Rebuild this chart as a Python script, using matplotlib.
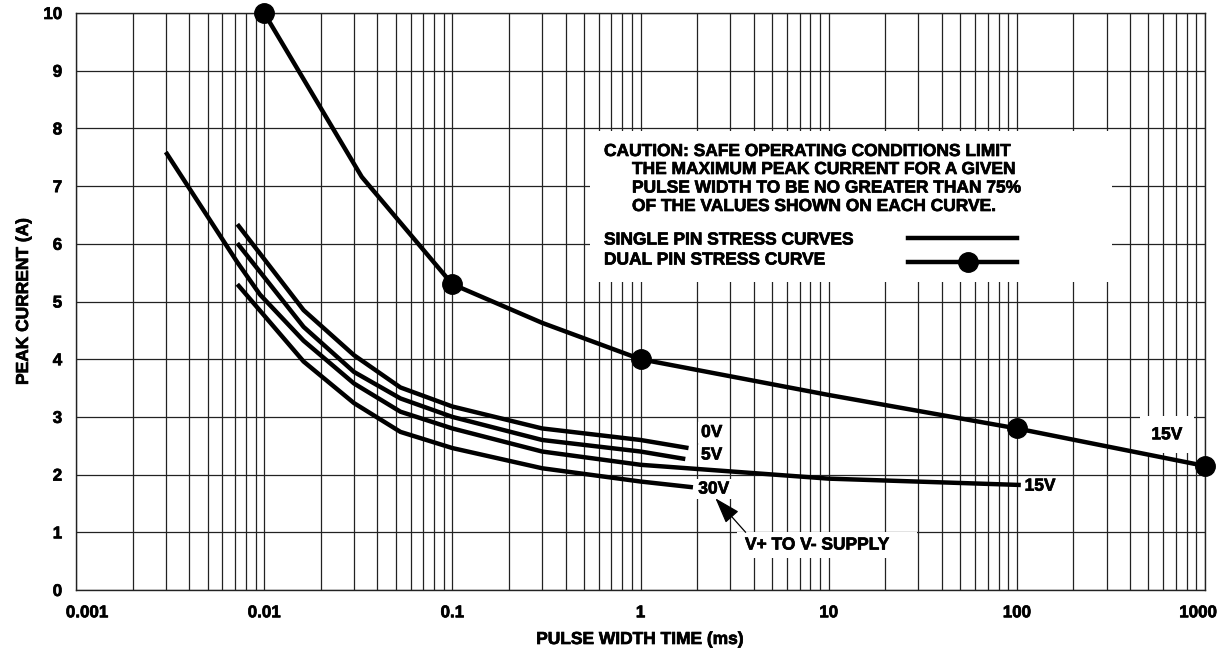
import numpy as np
import matplotlib
matplotlib.use('Agg')
import matplotlib.pyplot as plt
import matplotlib.patheffects as pe
import matplotlib.transforms as mtransforms
from matplotlib.patches import Rectangle

plt.rcParams['font.family'] = ['Liberation Sans', 'DejaVu Sans']
plt.rcParams['font.weight'] = 'bold'

# single pin stress curves (pulse width ms, peak current A)
x_0v = [0.0072, 0.0162, 0.030, 0.053, 0.1, 0.3, 1.0, 1.8]
y_0v = [6.34, 4.85, 4.07, 3.51, 3.18, 2.80, 2.60, 2.46]
x_5v = [0.0072, 0.0162, 0.030, 0.053, 0.1, 0.3, 1.0, 1.73]
y_5v = [6.01, 4.56, 3.78, 3.32, 3.00, 2.60, 2.40, 2.27]
x_15v = [0.003, 0.0072, 0.0095, 0.0162, 0.030, 0.053, 0.1, 0.3, 1.0, 10, 105]
y_15v = [7.59, 5.68, 5.12, 4.32, 3.58, 3.09, 2.80, 2.40, 2.17, 1.93, 1.82]
x_30v = [0.0072, 0.0162, 0.030, 0.053, 0.1, 0.3, 1.0, 1.9]
y_30v = [5.30, 3.96, 3.24, 2.74, 2.46, 2.11, 1.88, 1.78]

# dual pin stress curve
x_dual = [0.01, 0.033, 0.1, 0.3, 1, 10, 100, 1000]
y_dual = [10, 7.16, 5.3, 4.63, 4.0, 3.38, 2.8, 2.15]
dual_marks = [0, 2, 4, 6, 7]

xticks = [0.001, 0.01, 0.1, 1, 10, 100, 1000]
xticklabels = ['0.001', '0.01', '0.1', '1', '10', '100', '1000']
yticks = list(range(0, 11))

caution = ['CAUTION: SAFE OPERATING CONDITIONS LIMIT',
           'THE MAXIMUM PEAK CURRENT FOR A GIVEN',
           'PULSE WIDTH TO BE NO GREATER THAN 75%',
           'OF THE VALUES SHOWN ON EACH CURVE.']

W, H = 1226, 649
fs = 12.5
heavy = [pe.withStroke(linewidth=0.5, foreground='black')]
fig = plt.figure(figsize=(W / 100, H / 100), dpi=100)
ax = fig.add_axes([76 / W, 1 - 590 / H, 1129 / W, 577 / H])


def ax_xy(px, py):
    # pixel position -> axes fraction
    return (px - 76) / 1129, (590 - py) / 577


ax.set_xscale('log')
ax.set_xlim(0.001, 1000)
ax.set_ylim(0, 10)
ax.set_xticks(xticks)
ax.set_xticklabels(xticklabels)
ax.set_yticks(yticks)
ax.grid(which='both', color='#222222', lw=0.9)
ax.set_axisbelow(True)
ax.tick_params(which='both', length=0, labelsize=12.2)
ax.tick_params(axis='y', pad=10)
ax.tick_params(axis='x', pad=11)
for lab in ax.get_xticklabels() + ax.get_yticklabels():
    lab.set_fontweight('bold')
    lab.set_path_effects(heavy)
# edge labels sit inside the frame a bit
xl = ax.get_xticklabels()
xl[0].set_transform(xl[0].get_transform() + mtransforms.ScaledTranslation(0.11, 0, fig.dpi_scale_trans))
xl[-1].set_transform(xl[-1].get_transform() + mtransforms.ScaledTranslation(-0.07, 0, fig.dpi_scale_trans))
for s in ax.spines.values():
    s.set_linewidth(1.0)
    s.set_color('#222222')

lw = 3.2
for xs, ys in [(x_0v, y_0v), (x_5v, y_5v), (x_15v, y_15v), (x_30v, y_30v)]:
    ax.plot(xs, ys, color='black', lw=lw, solid_capstyle='butt', zorder=4)
ax.plot(x_dual, y_dual, color='black', lw=lw, marker='o', ms=14,
        markevery=dual_marks, clip_on=False, zorder=5)

ax.set_xlabel('PULSE WIDTH TIME (ms)', fontsize=fs, fontweight='bold', path_effects=heavy)
ax.set_ylabel('PEAK CURRENT (A)', fontsize=fs, fontweight='bold', path_effects=heavy)
ax.xaxis.set_label_coords(*ax_xy(640, 632))
ax.yaxis.set_label_coords(ax_xy(31, 0)[0], 0.5)

# caution box
x0, y1 = ax_xy(590, 131)
x1, y0 = ax_xy(1112, 282)
ax.add_patch(Rectangle((x0, y0), x1 - x0, y1 - y0, transform=ax.transAxes,
                       facecolor='white', edgecolor='none', zorder=2))
ty = [151.5, 169.5, 188, 206.5]
tx = [604, 632, 632, 632]
for t, xx, yy in zip(caution, tx, ty):
    ax.text(*ax_xy(xx, yy), t, transform=ax.transAxes, path_effects=heavy,
            fontsize=fs, fontweight='bold', va='center', ha='left', zorder=3)
ax.text(*ax_xy(604, 240), 'SINGLE PIN STRESS CURVES', transform=ax.transAxes,
        fontsize=fs, fontweight='bold', va='center', zorder=3, path_effects=heavy)
ax.text(*ax_xy(604, 260), 'DUAL PIN STRESS CURVE', transform=ax.transAxes,
        fontsize=fs, fontweight='bold', va='center', zorder=3, path_effects=heavy)
lx0, ly1 = ax_xy(908, 238)
lx1, ly2 = ax_xy(1017, 262)
ax.plot([lx0, lx1], [ly1, ly1], transform=ax.transAxes, color='black', lw=lw, zorder=3)
ax.plot([lx0, lx1], [ly2, ly2], transform=ax.transAxes, color='black', lw=lw, zorder=3)
ax.plot([ax_xy(968, 262)[0]], [ly2], transform=ax.transAxes,
        marker='o', ms=14, color='black', zorder=3)

bb = dict(facecolor='white', edgecolor='none', pad=2)
ax.text(2.39, 2.73, '0V', fontsize=fs, fontweight='bold', ha='center', va='center',
        bbox=bb, zorder=3, path_effects=heavy)
ax.text(2.39, 2.34, '5V', fontsize=fs, fontweight='bold', ha='center', va='center',
        bbox=bb, zorder=3, path_effects=heavy)
ax.text(2.45, 1.75, '30V', fontsize=fs, fontweight='bold', ha='center', va='center',
        bbox=bb, zorder=3, path_effects=heavy)
ax.text(110, 1.80, '15V', fontsize=fs, fontweight='bold', ha='left', va='center', zorder=6,
        bbox=dict(facecolor='white', edgecolor='none', pad=1), path_effects=heavy)
ax.text(628, 2.69, '15V', fontsize=fs, fontweight='bold', ha='center', va='center', zorder=3,
        bbox=dict(facecolor='white', edgecolor='none', pad=8), path_effects=heavy)

# supply label with its white patch
sx0, sy1 = ax_xy(737, 532)
sx1, sy0 = ax_xy(917, 558)
ax.add_patch(Rectangle((sx0, sy0), sx1 - sx0, sy1 - sy0, transform=ax.transAxes,
                       facecolor='white', edgecolor='none', zorder=2))
ax.text(*ax_xy(745, 545), 'V+ TO V- SUPPLY', transform=ax.transAxes, fontsize=fs,
        fontweight='bold', ha='left', va='center', zorder=3, path_effects=heavy)
ax.annotate('', xy=(2.5, 1.59), xytext=(3.62, 1.0),
            arrowprops=dict(arrowstyle='-|>,head_length=0.9,head_width=0.3',
                            color='black', lw=0.9, mutation_scale=18,
                            shrinkA=0, shrinkB=0), zorder=4)

fig.savefig('out.png', dpi=100)
